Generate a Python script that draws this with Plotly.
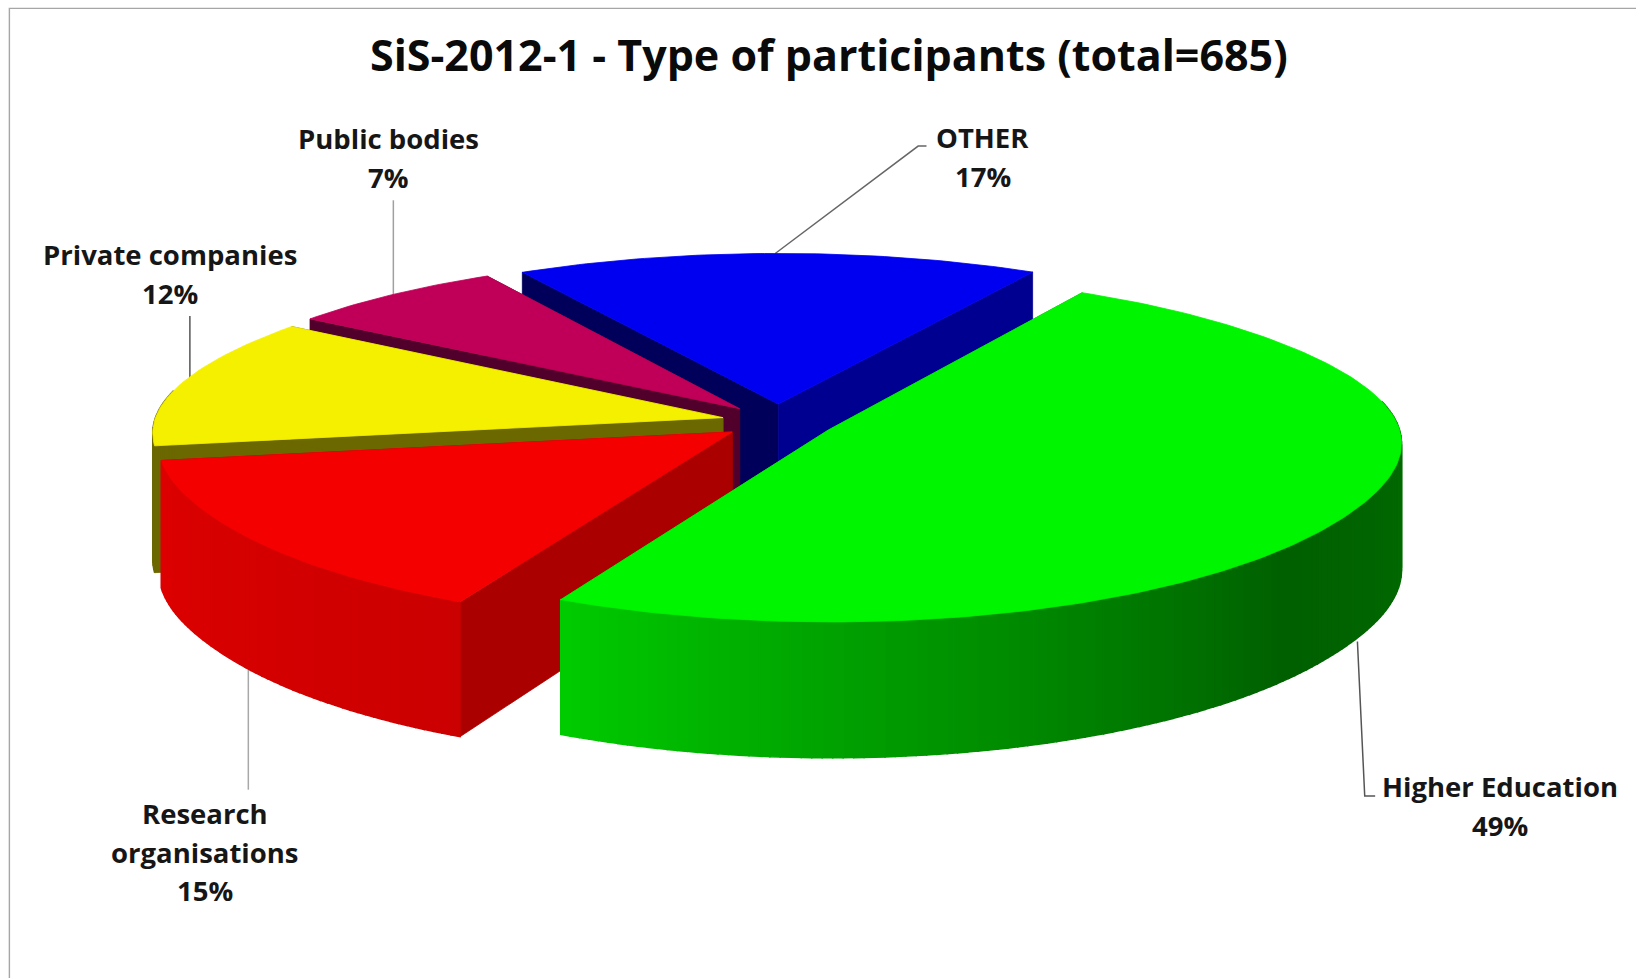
import math
import plotly.graph_objects as go

# ---- data ----
categories = ["Higher Education", "Research<br>organisations", "Private companies", "Public bodies", "OTHER"]
values = [49, 15, 12, 7, 17]
top_colors = ["#00f500", "#f50000", "#f5f000", "#c00058", "#0000f0"]
wall_colors = ["#00a000", "#aa0000", "#6c6800", "#50002a", "#000090"]
title_text = "SiS-2012-1 - Type of participants (total=685)"

# ---- pie geometry (style) ----
W, H = 1568.0, 937.5
CX, CY = 746.0, 404.0
R, K, P_FAR, P_NEAR_X, P_NEAR_Y, DEPTH, EXPLODE = 545.0, 0.31, 0.14, 0.05, 0.075, 120.0, 0.1
START_DEG = 59.5

def blend(y, near):
    t = max(0.0, min(1.0, (y + 0.6) / 1.2))
    t = t * t * (3 - 2 * t)
    return near + (P_FAR - near) * t

def proj(x, y, z=0.0):
    sx = 1.0 / (1.0 + blend(y, P_NEAR_X) * y)
    sy = 1.0 / (1.0 + blend(y, P_NEAR_Y) * y)
    return CX + R * x * sx, CY - R * K * y * sy + DEPTH * z * sy

def shade(rgb, f):
    return "rgb(%d,%d,%d)" % tuple(max(0, min(255, round(c * f))) for c in rgb)

def hex2rgb(h):
    return tuple(int(h[i:i + 2], 16) for i in (1, 3, 5))

fig = go.Figure()

def poly(points, color, width=0.8):
    xs = [p[0] for p in points] + [points[0][0]]
    ys = [p[1] for p in points] + [points[0][1]]
    fig.add_trace(go.Scatter(x=xs, y=ys, mode="lines", fill="toself", fillcolor=color,
                             line=dict(color=color, width=width), hoverinfo="skip", showlegend=False))

total = float(sum(values))
wedges = []
a = START_DEG
for v in values:
    span = 360.0 * v / total
    wedges.append((a, a - span))
    a -= span

SHADE_STOPS = [(-190, .93), (-117, .83), (-90, .66), (-40, .39), (0, .44), (15, .44)]

def rim_factor(deg):
    d = deg
    while d > 15:
        d -= 360
    while d < -190:
        d += 360
    for (d0, f0), (d1, f1) in zip(SHADE_STOPS, SHADE_STOPS[1:]):
        if d0 <= d <= d1:
            return f0 + (f1 - f0) * (d - d0) / (d1 - d0)
    return SHADE_STOPS[-1][1]

# painter's order: far wedges first, green last
order = [4, 3, 2, 1, 0]
for i in order:
    a0, a1 = wedges[i]
    mid = math.radians((a0 + a1) / 2)
    ox, oy = EXPLODE * math.cos(mid), EXPLODE * math.sin(mid)
    base = hex2rgb(top_colors[i])
    n = max(8, int(abs(a1 - a0)))
    angs = [a0 + (a1 - a0) * j / n for j in range(n + 1)]
    pts = [(ox + math.cos(math.radians(t)), oy + math.sin(math.radians(t))) for t in angs]
    apex = (ox, oy)
    # inner walls
    poly([proj(*apex), proj(*pts[0]), proj(*pts[0], 1), proj(*apex, 1)],
         wall_colors[i] if i != 4 else "#00005a")
    poly([proj(*apex), proj(*pts[-1]), proj(*pts[-1], 1), proj(*apex, 1)], wall_colors[i])
    # outer wall, only the segments that face the viewer
    for j in range(n):
        tm = (angs[j] + angs[j + 1]) / 2
        if math.sin(math.radians(tm)) < 0.16:
            c = wall_colors[i] if i == 2 else shade(base, rim_factor(tm))
            poly([proj(*pts[j]), proj(*pts[j + 1]), proj(*pts[j + 1], 1), proj(*pts[j], 1)], c, 1.5)
    # top face
    poly([proj(*apex)] + [proj(*p) for p in pts], top_colors[i])

# ---- leaders and labels (layout furniture) ----
leaders = [
    ([(1301, 615), (1308, 763), (1318, 763)], "#555555"),
    ([(238, 642), (238, 757)], "#a8a8a8"),
    ([(182, 365), (182, 303)], "#555555"),
    ([(377, 283), (377, 192)], "#a0a0a0"),
    ([(743, 243), (880, 140), (888, 140)], "#666666"),
]
label_pos = [(1438, 754), (196, 780), (163, 244), (372, 133), (942, 132)]
pct = [str(v) + "%" for v in values]
shapes = [dict(type="rect", xref="x", yref="y", x0=9, x1=1700, y0=8, y1=1200, layer="below",
               line=dict(color="#a6a6a6", width=1.4), fillcolor="white")]
for pl, col in leaders:
    path = "M " + " L ".join("%g,%g" % p for p in pl)
    shapes.append(dict(type="path", path=path, xref="x", yref="y", line=dict(color=col, width=1.5), layer="below"))

FONT = "Open Sans"
annotations = [dict(x=795, y=52, xref="x", yref="y", text="<b>" + title_text + "</b>", showarrow=False,
                    font=dict(family=FONT, size=43, color="#0a0a0a"), xanchor="center", yanchor="middle")]
for name, p, (x, y) in zip(categories, pct, label_pos):
    for k, line in enumerate(name.split("<br>") + [p]):
        annotations.append(dict(x=x, y=y + k * 37, xref="x", yref="y", text="<b>" + line + "</b>", showarrow=False,
                                font=dict(family=FONT, size=27.5, color="#161616"), xanchor="center", yanchor="middle"))

fig.update_layout(width=1636, height=978, margin=dict(l=0, r=0, t=0, b=0), paper_bgcolor="white",
                  plot_bgcolor="white", showlegend=False, shapes=shapes, annotations=annotations,
                  xaxis=dict(range=[0, W], visible=False, fixedrange=True),
                  yaxis=dict(range=[H, 0], visible=False, fixedrange=True))
fig.write_html("out.html", config={"displayModeBar": False},
               post_script="document.body.style.margin='0';document.body.style.overflow='hidden';")
